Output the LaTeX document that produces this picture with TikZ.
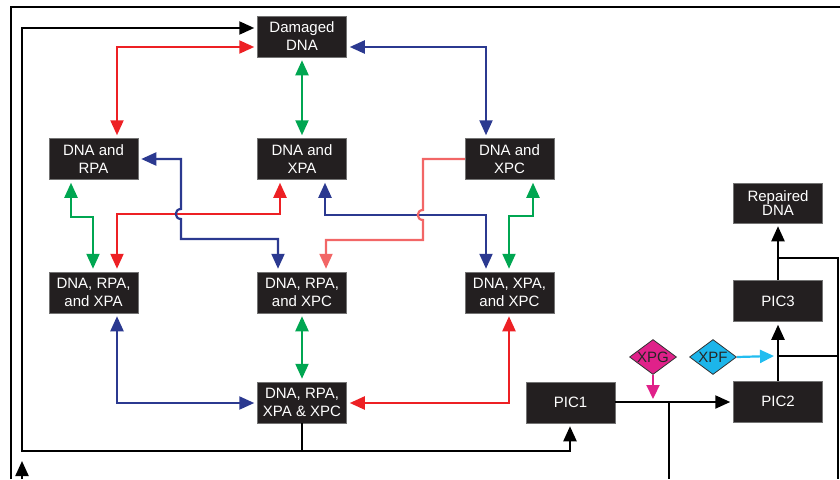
\documentclass[tikz,border=0pt]{standalone}
\usepackage{fontspec}
\setmainfont{Liberation Sans}
\usetikzlibrary{arrows.meta,shapes.geometric}
\definecolor{cred}{HTML}{ED2024}
\definecolor{lred}{HTML}{F26666}
\definecolor{cblue}{HTML}{2B3990}
\definecolor{cgreen}{HTML}{00A651}
\definecolor{cmag}{HTML}{E0218A}
\definecolor{ccyan}{HTML}{1CB5EA}
\definecolor{carrow}{HTML}{22BDF0}
\definecolor{boxk}{HTML}{231F20}
\begin{document}
\begin{tikzpicture}[x=1pt,y=-1pt,
 box/.style={fill=boxk,draw=black!55,line width=0.5pt,text=white,minimum width=89pt,minimum height=41pt,inner sep=0pt,align=center,font=\fontsize{15}{18}\selectfont},
 dia/.style={diamond,draw=black!80,line width=0.8pt,minimum width=47pt,minimum height=35pt,inner sep=0pt,aspect=1.35,font=\fontsize{15}{16}\selectfont,text=black!85},
 con/.style={line width=2.2pt},
 tip/.style={-{Triangle[length=15pt,width=13pt]},shorten >=3pt},
 tips/.style={{Triangle[length=15pt,width=13pt]}-{Triangle[length=15pt,width=13pt]},shorten >=3pt,shorten <=3pt},
]
\useasboundingbox (0,0) rectangle (840,479);
% frame
\draw[line width=1.3pt] (11,479) -- (11,7) -- (840,7);

% nodes
\node[box] (dmg) at (302,36.5) {Damaged\\DNA};
\node[box] (rpa) at (93.5,159) {DNA and\\RPA};
\node[box] (xpa) at (302,159) {DNA and\\XPA};
\node[box] (xpc) at (509.5,159) {DNA and\\XPC};
\node[box,minimum height=40pt,font=\fontsize{15}{14}\selectfont] (rep) at (778,203) {Repaired\\DNA};
\node[box] (rpaxpa) at (93.5,292.5) {DNA, RPA,\\and XPA};
\node[box] (rpaxpc) at (302,292.5) {DNA, RPA,\\and XPC};
\node[box] (xpaxpc) at (509.5,292.5) {DNA, XPA,\\and XPC};
\node[box] (all) at (302,402.5) {DNA, RPA,\\XPA \& XPC};
\node[box] (pic1) at (570.5,402.5) {PIC1};
\node[box] (pic2) at (778,401.5) {PIC2};
\node[box] (pic3) at (778,301) {PIC3};
\node[dia,fill=cmag] (xpg) at (653,357) {XPG};
\node[dia,fill=ccyan] (xpf) at (713,357) {XPF};

% free ends
\coordinate (in1) at (22,479);
\coordinate (out1) at (669,479);
\coordinate (out2) at (838,479);

% black connectors
\draw[con,tip] (all.south) -- (302,451) -- (22,451) -- (22,28) -- (dmg.west |- 0,28);
\draw[con,tip] (302,451) -- (570,451) -- (570,0 |- pic1.south);
\draw[con,tip] (in1) -- (22,458);
\draw[con,tip] (pic1.east |- 0,402) -- (pic2.west |- 0,402);
\draw[con] (669,402) -- (out1);
\draw[con,tip] (pic2.north) -- (pic3.south);
\draw[con,tip] (pic3.north) -- (rep.south);
\draw[con] (778,356) -- (838,356);
\draw[con] (778,258) -- (838,258) -- (out2);

% XPG / XPF
\draw[con,cmag,-{Triangle[length=14pt,width=13pt]}] (xpg.south) -- (653,399);
\draw[con,carrow,-{Triangle[length=14pt,width=13pt]}] (xpf.east) -- (774,356);

% upper layer
\draw[con,cred,tips] (117,0 |- rpa.north) -- (117,47) -- (dmg.west |- 0,47);
\draw[con,cblue,tips] (dmg.east |- 0,47) -- (486,47) -- (486,0 |- xpc.north);
\draw[con,cgreen,tips] (dmg.south) -- (xpa.north);

% middle layer
\draw[con,cred,tips] (117,0 |- rpaxpa.north) -- (117,214) -- (280,214) -- (280,0 |- xpa.south);
\draw[con,cblue,tips] (rpa.east) -- (181,159) -- (181,209) .. controls (174,209) and (174,219) .. (181,219) -- (181,239) -- (278,239) -- (278,0 |- rpaxpc.north);
\draw[con,cblue,tips] (325,0 |- xpa.south) -- (325,215) -- (486,215) -- (486,0 |- xpaxpc.north);
\draw[con,lred,tip] (xpc.west) -- (423,159) -- (423,210) .. controls (416,210) and (416,220) .. (423,220) -- (423,240) -- (326,240) -- (326,0 |- rpaxpc.north);
\draw[con,cgreen,tips] (71,0 |- rpa.south) -- (71,217) -- (93,217) -- (93,0 |- rpaxpa.north);
\draw[con,cgreen,tips] (533,0 |- xpc.south) -- (533,216) -- (509,216) -- (509,0 |- xpaxpc.north);

% lower layer
\draw[con,cblue,tips] (117,0 |- rpaxpa.south) -- (117,403) -- (all.west |- 0,403);
\draw[con,cgreen,tips] (rpaxpc.south) -- (all.north);
\draw[con,cred,tips] (509,0 |- xpaxpc.south) -- (509,403) -- (all.east |- 0,403);
\end{tikzpicture}
\end{document}
